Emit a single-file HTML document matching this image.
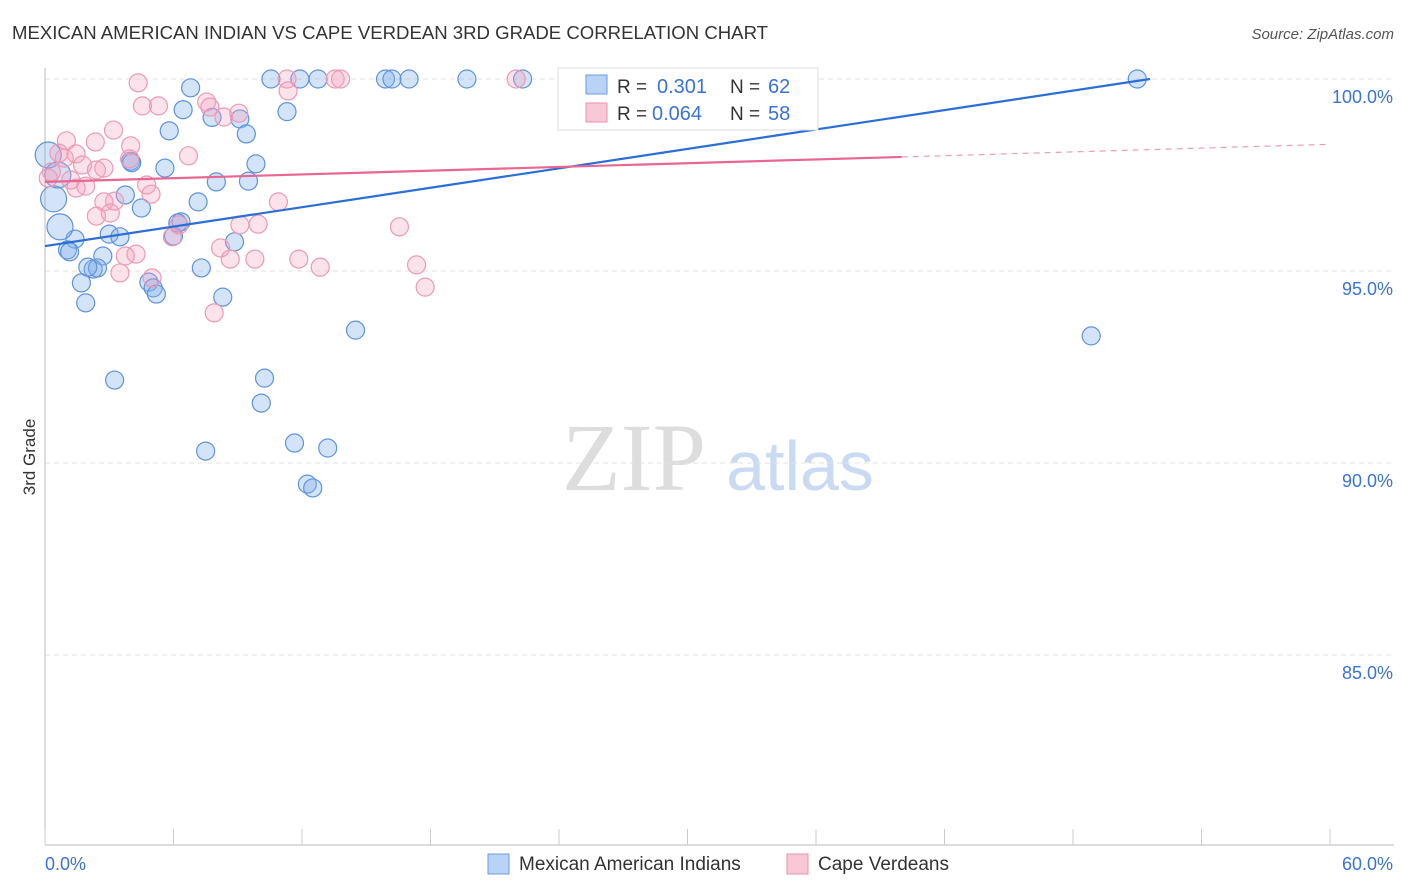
<!DOCTYPE html>
<html><head><meta charset="utf-8"><style>
body{margin:0;background:#fff;font-family:"Liberation Sans",sans-serif;}
#wrap{position:relative;width:1406px;height:892px;overflow:hidden;}
</style></head><body><div id="wrap">
<svg id="svg" width="1406" height="892" xmlns="http://www.w3.org/2000/svg" font-family="Liberation Sans, sans-serif">
<text x="12" y="39" font-size="18" fill="#333" textLength="756" lengthAdjust="spacingAndGlyphs">MEXICAN AMERICAN INDIAN VS CAPE VERDEAN 3RD GRADE CORRELATION CHART</text>
<text x="1394" y="39" font-size="15" fill="#555" font-style="italic" text-anchor="end">Source: ZipAtlas.com</text>
<text x="35" y="457" font-size="17" fill="#333" transform="rotate(-90 35 457)" text-anchor="middle">3rd Grade</text>
<g><text x="634" y="490" font-size="96" font-family="Liberation Serif, serif" fill="#ddd" text-anchor="middle">ZIP</text><text x="800" y="490" font-size="70" fill="#c9daf2" text-anchor="middle">atlas</text></g>
<g id="grid"></g><g id="axes"></g><g id="pts"></g><g id="lines"></g>
<g>
<rect x="558" y="68" width="260" height="62" fill="#fff" stroke="#ddd"/>
<rect x="586" y="75" width="21" height="19" fill="#b8d3f5" stroke="#6b9ee0"/>
<text x="617" y="93" font-size="19" fill="#333">R = </text><text x="657" y="93" font-size="20" fill="#3a73d4">0.301</text>
<text x="730" y="93" font-size="19" fill="#333">N = </text><text x="768" y="93" font-size="20" fill="#3a73d4">62</text>
<rect x="586" y="103" width="21" height="19" fill="#f9c8d6" stroke="#e890ab"/>
<text x="617" y="120" font-size="19" fill="#333">R = </text><text x="652" y="120" font-size="20" fill="#3a73d4">0.064</text>
<text x="730" y="120" font-size="19" fill="#333">N = </text><text x="768" y="120" font-size="20" fill="#3a73d4">58</text>
</g>
<g>
<rect x="488" y="854" width="21" height="20" fill="#b8d3f5" stroke="#6b9ee0"/>
<text x="519" y="870" font-size="19" fill="#333">Mexican American Indians</text>
<rect x="787" y="854" width="21" height="20" fill="#f9c8d6" stroke="#e890ab"/>
<text x="818" y="870" font-size="19" fill="#333">Cape Verdeans</text>
</g>
</svg>
<script>
const blueX=[10.55,11.9,12.75,15.9,16.2,17.0,19.7,22.3,26.1,28.6,31.5,51.0,6.8,6.45,11.3,7.8,9.1,5.8,9.4,9.85,4.0,5.6,8.0,9.5,3.75,4.5,7.15,6.35,6.0,3.0,3.5,1.4,8.85,0.7,0.4,0.15,1.05,1.15,2.7,2.25,2.45,7.3,1.7,4.85,5.05,5.2,8.3,1.9,14.5,48.85,3.25,10.25,10.1,11.65,7.5,13.2,12.25,12.5,4.05,6.2,2.0,0.6];
const blueY=[100,100,100,100,100,100,100,100,100,100,100,100,99.77,99.2,99.15,99.0,98.96,98.65,98.57,97.79,97.86,97.68,97.32,97.34,96.98,96.64,96.8,96.28,95.91,95.96,95.89,95.83,95.76,96.15,96.88,98.02,95.55,95.5,95.39,95.05,95.08,95.08,94.69,94.71,94.56,94.4,94.32,94.17,93.46,93.31,92.16,92.21,91.56,90.52,90.31,90.39,89.45,89.35,97.82,96.25,95.1,97.5];
const pinkX=[4.35,4.55,5.3,7.55,7.7,8.35,9.05,11.3,11.35,13.55,13.8,22.0,1.0,2.35,3.2,4.0,6.7,0.65,0.9,1.45,1.75,2.4,2.75,3.95,4.75,4.95,1.45,1.9,1.2,0.3,3.25,2.75,2.4,3.05,6.25,5.95,10.9,9.1,9.95,16.55,8.2,8.65,9.8,11.85,12.85,17.35,17.75,4.25,3.75,5.0,3.5,7.9,0.15];
const pinkY=[99.9,99.3,99.3,99.4,99.27,99.01,99.11,100,99.69,100,100,100,98.39,98.36,98.67,98.26,98.0,98.07,97.94,98.05,97.76,97.63,97.68,97.92,97.24,97.0,97.16,97.21,97.37,97.58,96.82,96.8,96.43,96.51,96.2,95.89,96.8,96.2,96.22,96.15,95.6,95.31,95.31,95.31,95.1,95.16,94.58,95.44,95.39,94.82,94.95,93.91,97.42];
const yTicks=[100,95,90,85];
const yTickLabels=["100.0%","95.0%","90.0%","85.0%"];
const xTickLabels=["0.0%","60.0%"];
const blueTrend=[0,95.65,51.6,100];
const pinkTrend=[0,97.32,40,97.97,60,98.3];
const NS="http://www.w3.org/2000/svg";
const X=v=>45+v/60*1285, Y=v=>79+(100-v)/5*192;
function mk(t,a,p){const e=document.createElementNS(NS,t);for(const k in a)e.setAttribute(k,a[k]);document.getElementById(p).appendChild(e);return e;}
yTicks.forEach((v,i)=>{
 const g=mk('line',{x1:45,x2:1394,y1:Y(v),y2:Y(v),stroke:'#e2e2e2','stroke-dasharray':'5,4'},'grid');
 
 
 const t=mk('text',{x:1393,y:Y(v)+24,'font-size':18,fill:'#3a73d4','text-anchor':'end'},'axes');t.textContent=yTickLabels[i];
 
 
});
mk('line',{x1:45,x2:45,y1:68,y2:845,stroke:'#bbb'},'axes');
mk('line',{x1:45,x2:1394,y1:845,y2:845,stroke:'#bbb'},'axes');
for(let i=0;i<=10;i++){const l=mk('line',{x1:X(i*6),x2:X(i*6),y1:829,y2:845,stroke:'#ccc'},'axes');
 
 }
[[0,'start',45],[1,'end',1393]].forEach(([i,a,x])=>{const t=mk('text',{x:x,y:870,'font-size':18,fill:'#3a73d4','text-anchor':a},'axes');t.textContent=xTickLabels[i];
 
 });
blueX.forEach((v,i)=>{const c=mk('circle',{cx:X(v),cy:Y(blueY[i]),r:(v<1?13:9),fill:'rgba(130,175,235,0.35)',stroke:'#5f93dc','stroke-width':1.2},'pts');
 
 });
pinkX.forEach((v,i)=>{const c=mk('circle',{cx:X(v),cy:Y(pinkY[i]),r:9,fill:'rgba(245,160,190,0.3)',stroke:'#ec9ab3','stroke-width':1.2},'pts');
 
 });
let l=mk('line',{x1:X(blueTrend[0]),y1:Y(blueTrend[1]),x2:X(blueTrend[2]),y2:Y(blueTrend[3]),stroke:'#2a6ed6','stroke-width':2.2},'lines');


l=mk('line',{x1:X(pinkTrend[0]),y1:Y(pinkTrend[1]),x2:X(pinkTrend[2]),y2:Y(pinkTrend[3]),stroke:'#e8668f','stroke-width':2.2},'lines');


l=mk('line',{x1:X(pinkTrend[2]),y1:Y(pinkTrend[3]),x2:X(pinkTrend[4]),y2:Y(pinkTrend[5]),stroke:'#e8a0b6','stroke-width':1.2,'stroke-dasharray':'6,5'},'lines');


</script></div></body></html>
